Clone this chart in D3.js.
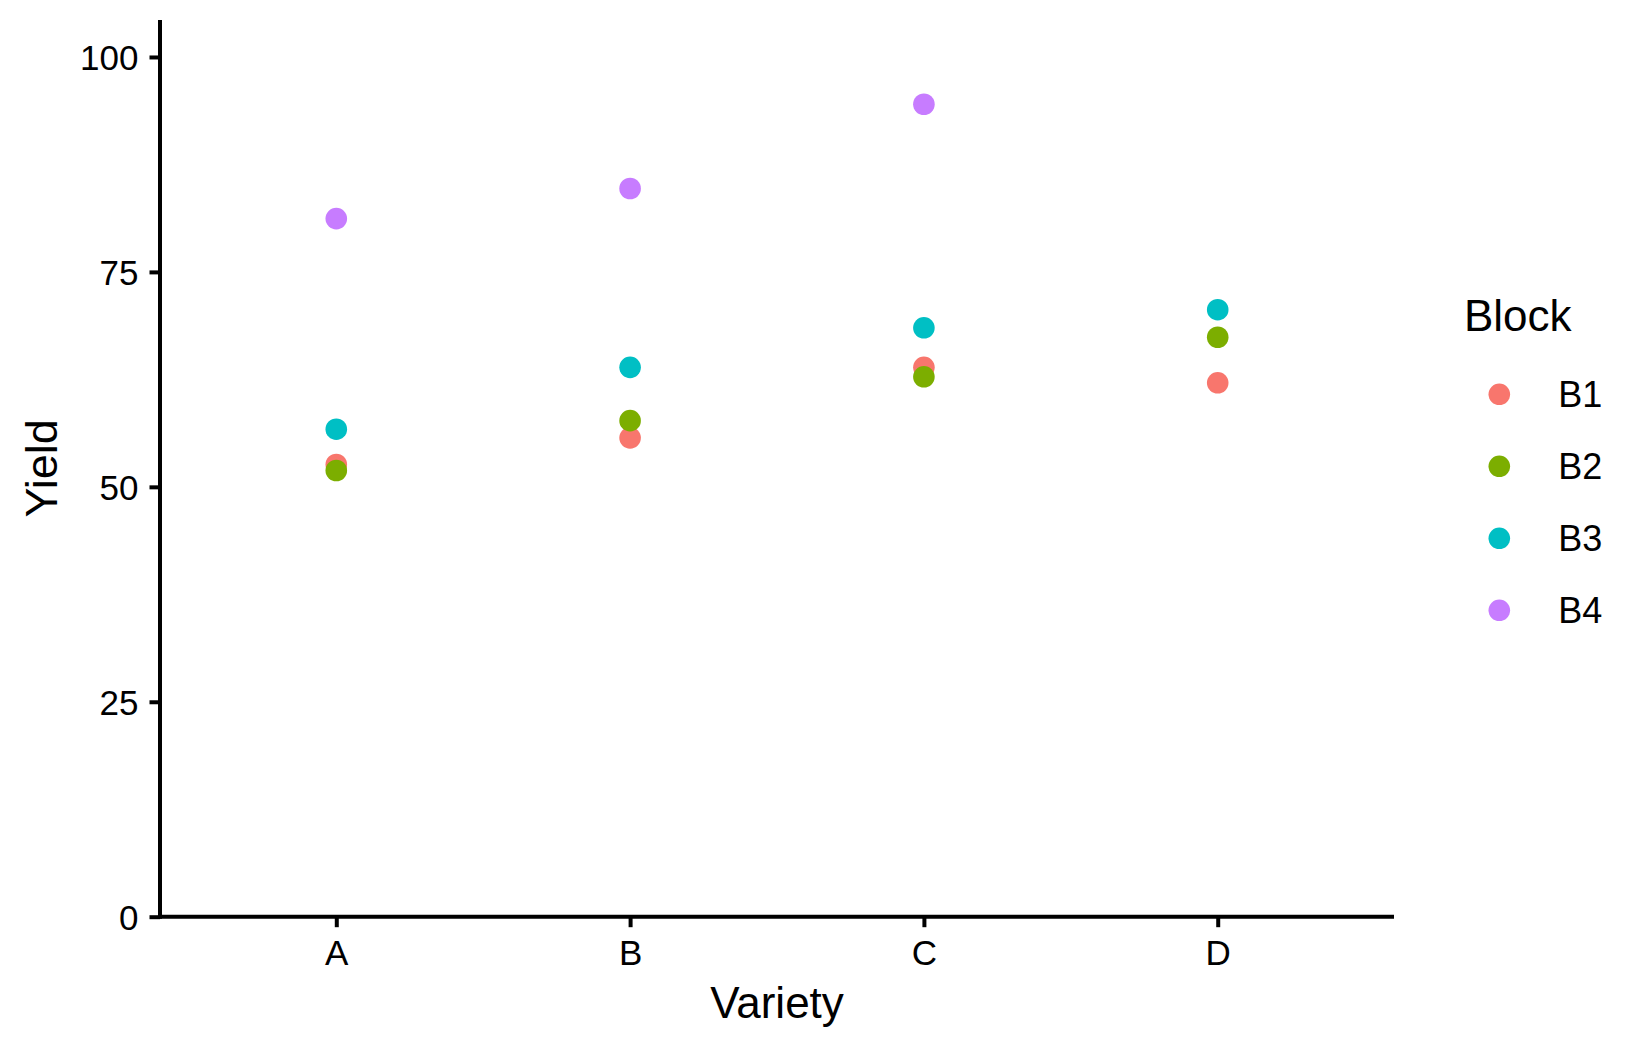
<!DOCTYPE html>
<html>
<head>
<meta charset="utf-8">
<script src="https://cdn.jsdelivr.net/npm/d3@7"></script>
<style>
  html, body { margin: 0; padding: 0; background: #ffffff; }
  svg { display: block; }
</style>
</head>
<body>
<svg id="chart" width="1650" height="1050"></svg>
<script>
const varieties = ["A", "B", "C", "D"];
const blocks = ["B1", "B2", "B3", "B4"];
const blockColors = ["#F8766D", "#7CAE00", "#00BFC4", "#C77CFF"];
// yield per block, one value per variety (null = no observation)
const yieldB1 = [52.6, 55.7, 63.9, 62.1];
const yieldB2 = [51.9, 57.7, 62.8, 67.4];
const yieldB3 = [56.7, 63.9, 68.5, 70.6];
const yieldB4 = [81.2, 84.7, 94.5, null];
const yTicks = [0, 25, 50, 75, 100];

const FONT = "'Liberation Sans', Arial, sans-serif";
const plot = { left: 160, right: 1394, top: 20, bottom: 916.7 };

const svg = d3.select("#chart");

const x = d3.scalePoint()
  .domain(varieties)
  .range([plot.left, plot.right])
  .padding(0.6);

const y = d3.scaleLinear()
  .domain([0, 104.3])
  .range([plot.bottom, plot.top]);

const color = d3.scaleOrdinal().domain(blocks).range(blockColors);

const rows = [];
[yieldB1, yieldB2, yieldB3, yieldB4].forEach((vals, i) => {
  vals.forEach((v, j) => {
    if (v != null) rows.push({ block: blocks[i], variety: varieties[j], value: v });
  });
});

// points
svg.append("g")
  .selectAll("circle")
  .data(rows)
  .join("circle")
  .attr("cx", d => x(d.variety))
  .attr("cy", d => y(d.value))
  .attr("r", 10.8)
  .attr("fill", d => color(d.block));

function styleAxis(g) {
  g.select(".domain").attr("stroke", "#000").attr("stroke-width", 4);
  g.selectAll(".tick line").attr("stroke", "#000").attr("stroke-width", 4);
  g.selectAll(".tick text")
    .attr("fill", "#000")
    .attr("font-family", FONT)
    .attr("font-size", 35);
}

// x axis
const xAxis = svg.append("g")
  .attr("transform", `translate(0,${plot.bottom})`)
  .call(d3.axisBottom(x).tickSizeInner(10.5).tickSizeOuter(0).tickPadding(13));
xAxis.select(".domain").attr("d", `M${plot.left - 2},0H${plot.right}`);
styleAxis(xAxis);

// y axis
const yAxis = svg.append("g")
  .attr("transform", `translate(${plot.left},0)`)
  .call(d3.axisLeft(y).tickValues(yTicks).tickSizeInner(10.5).tickSizeOuter(0).tickPadding(11));
yAxis.select(".domain").attr("d", `M0,${plot.bottom + 2}V${plot.top}`);
styleAxis(yAxis);
yAxis.selectAll(".tick text").attr("dy", "0.36em");

// axis titles
svg.append("text")
  .attr("x", (plot.left + plot.right) / 2)
  .attr("y", 1018)
  .attr("text-anchor", "middle")
  .attr("font-family", FONT)
  .attr("font-size", 44)
  .text("Variety");

svg.append("text")
  .attr("transform", `translate(57,${(plot.top + plot.bottom) / 2}) rotate(-90)`)
  .attr("text-anchor", "middle")
  .attr("font-family", FONT)
  .attr("font-size", 45)
  .text("Yield");

// legend
const legend = svg.append("g");
legend.append("text")
  .attr("x", 1464)
  .attr("y", 331)
  .attr("font-family", FONT)
  .attr("font-size", 44)
  .text("Block");

const keyY = d3.scalePoint().domain(blocks).range([394.3, 610.3]);
const item = legend.selectAll("g.key")
  .data(blocks)
  .join("g")
  .attr("class", "key")
  .attr("transform", d => `translate(1499.3,${keyY(d)})`);
item.append("circle")
  .attr("r", 10.8)
  .attr("fill", d => color(d));
item.append("text")
  .attr("x", 59)
  .attr("dy", "0.36em")
  .attr("font-family", FONT)
  .attr("font-size", 36)
  .text(d => d);
</script>
</body>
</html>
